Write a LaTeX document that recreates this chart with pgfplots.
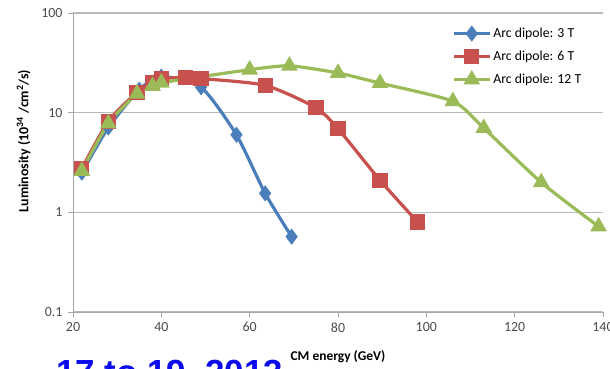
\documentclass[border=0pt]{standalone}
\usepackage{pgfplots}
\pgfplotsset{compat=1.18}
\usepackage{fontspec}
\setmainfont{Carlito}
\newfontfamily\arialfont{Liberation Sans}
\definecolor{xlblue}{HTML}{4A7EBB}
\definecolor{xlred}{HTML}{C8504D}
\definecolor{xlgreen}{HTML}{9BBB59}
\definecolor{titleblue}{RGB}{10,10,235}
\begin{document}
\begin{tikzpicture}[x=1bp,y=1bp]
\useasboundingbox (0,0) rectangle (610,368);
\begin{scope}
\clip (0,0) rectangle (610,368);
\node[anchor=base west, inner sep=0, text=titleblue, font=\arialfont\bfseries\fontsize{35}{40}\selectfont] at (56,-16) {17 to 19, 2013};
\end{scope}
\begin{axis}[
  scale only axis, width=530bp, height=299bp,
  at={(73bp,56bp)}, anchor=south west,
  xmin=20, xmax=140, ymin=0.1, ymax=100, ymode=log,
  axis x line*=bottom, axis y line*=left,
  axis line style={draw=gray!70, line width=1bp, -},
  xtick={20,40,60,80,100,120,140}, xticklabels={20,40,60,80,100,120,140},
  ytick={0.1,1,10,100}, yticklabels={0.1,1,10,100},
  minor ytick={}, yminorticks=false,
  tick align=outside, major tick length=5bp,
  tick style={draw=gray!70, line width=1bp},
  ymajorgrids, grid style={draw=gray!55, line width=1.2bp},
  ticklabel style={font=\fontsize{14}{16}\selectfont, text=black!70},
  xticklabel style={yshift=-2bp},
  yticklabel style={xshift=-2bp},
  xlabel={CM energy (GeV)},
  xlabel style={at={(axis description cs:0.5,-0.15)}, anchor=center, font=\bfseries\fontsize{13.5}{15}\selectfont},
  ylabel={Luminosity (10\textsuperscript{34} /cm\textsuperscript{2}/s)},
  ylabel style={at={(axis description cs:-0.093,0.572)}, anchor=center, font=\bfseries\fontsize{14}{16}\selectfont},
  clip=false,
  legend style={at={(axis description cs:0.715,0.957)}, anchor=north west, draw=none, fill=none,
    inner xsep=0pt, inner ysep=0pt, row sep=8bp, font=\fontsize{13.8}{15}\selectfont,
    cells={anchor=west}},
  legend image code/.code={\draw[mark repeat=2,mark phase=2] plot coordinates {(0bp,0bp)(18bp,0bp)(36bp,0bp)};},
  every axis plot/.append style={line width=3.2bp, smooth, tension=0.4},
]
\addplot[color=xlblue, mark=diamond*, mark size=5.5bp, mark options={solid}] coordinates {
(22,2.5) (28,7.1) (35,17) (40,23) (49,18) (57,6) (63.5,1.55) (69.5,0.57)};
\addlegendentry{Arc dipole: 3 T}
\addplot[color=xlred, mark=square*, mark size=6bp, mark options={solid}] coordinates {
(22,2.75) (28,8.2) (34.5,16) (38,20) (40,22) (45.5,22.5) (49,22) (63.5,18.8) (75,11.2) (80,6.9) (89.5,2.1) (98,0.8)};
\addlegendentry{Arc dipole: 6 T}
\addplot[color=xlgreen, mark=triangle*, mark size=6.5bp, mark options={solid}] coordinates {
(22,2.6) (28,7.8) (34.5,15.5) (38,18.5) (40,20) (60,27) (69,29.5) (80,25) (89.5,19.8) (106,13) (113,7) (126,2) (139,0.72)};
\addlegendentry{Arc dipole: 12 T}
\end{axis}
\end{tikzpicture}
\end{document}
